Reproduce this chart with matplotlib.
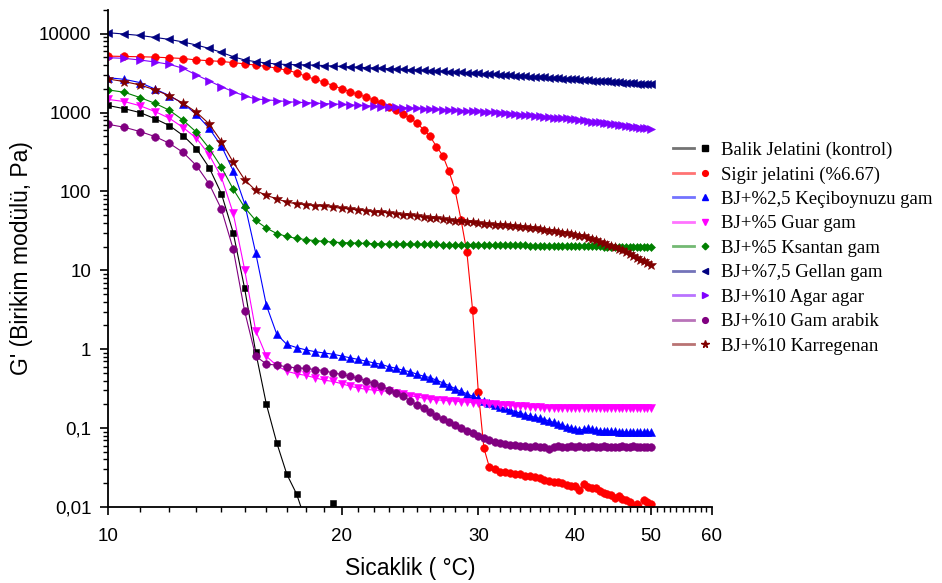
import numpy as np
import matplotlib
matplotlib.use("Agg")
import matplotlib.pyplot as plt
from matplotlib.lines import Line2D
from matplotlib.legend_handler import HandlerTuple
from matplotlib.ticker import FixedLocator, FuncFormatter, NullFormatter, LogLocator

plt.rcParams['font.family'] = ['Liberation Sans', 'DejaVu Sans']

# measurement grid: 10 -> 50 °C every 0.5 °C
temperature = np.arange(10, 50.01, 0.5)

# G' values (Pa)
balik = [1230, 1120, 1000, 836, 684, 511, 350, 201, 94, 30, 5.9, 0.92, 0.20, 0.065,
         0.026, 0.0146, 0.0064, np.nan, np.nan, 0.0112]

sigir = [5200, 5150, 5100, 5050, 4950, 4850, 4650, 4550, 4450, 4300, 4150, 4000, 3850,
         3650, 3450, 3200, 2880, 2640, 2420, 2200, 2010, 1840, 1710, 1570, 1440, 1320,
         1190, 1080, 970, 850, 735, 610, 500, 370, 285, 180, 104, 44, 17, 3.1, 0.29,
         0.056, 0.032, 0.030, 0.028, 0.0275, 0.027, 0.0265, 0.026, 0.0245, 0.0245, 0.024,
         0.023, 0.022, 0.0215, 0.0205, 0.021, 0.020, 0.019, 0.0185, 0.0185, 0.0163, 0.0194,
         0.018, 0.0172, 0.0175, 0.016, 0.0152, 0.0148, 0.014, 0.0131, 0.0138, 0.0128,
         0.0122, 0.0115, 0.0098, 0.0108, 0.0095, 0.0122, 0.0116, 0.0108]

keciboynuzu = [2770, 2640, 2400, 1990, 1640, 1300, 951, 633, 378, 183, 70, 16.6, 3.6,
               1.55, 1.15, 1.05, 0.98, 0.93, 0.895, 0.865, 0.82, 0.78, 0.743, 0.707,
               0.671, 0.644, 0.60, 0.575, 0.541, 0.519, 0.483, 0.455, 0.438, 0.405, 0.376,
               0.346, 0.317, 0.292, 0.273, 0.253, 0.238, 0.22, 0.208, 0.196, 0.185, 0.178,
               0.169, 0.162, 0.154, 0.148, 0.142, 0.137, 0.133, 0.128, 0.124, 0.118, 0.114,
               0.108, 0.104, 0.100, 0.098, 0.095, 0.096, 0.100, 0.096, 0.094, 0.093, 0.092,
               0.092, 0.091, 0.091, 0.090, 0.090, 0.089, 0.089, 0.089, 0.089, 0.089, 0.089,
               0.089, 0.089]

guar = [1470, 1380, 1220, 1030, 847, 646, 473, 292, 152, 53, 10.2, 1.72, 0.815, 0.62,
        0.526, 0.487, 0.465, 0.433, 0.405, 0.39, 0.366, 0.34, 0.323, 0.31, 0.303, 0.298,
        0.292, 0.28, 0.268, 0.258, 0.248, 0.24, 0.232, 0.228, 0.225, 0.222, 0.22, 0.216,
        0.214, 0.211, 0.209, 0.206, 0.204, 0.201, 0.199, 0.196, 0.194, 0.192, 0.19, 0.188,
        0.186, 0.184, 0.183, 0.182, 0.182, 0.18, 0.179, 0.18, 0.179, 0.18, 0.181, 0.179,
        0.18, 0.182, 0.18, 0.179, 0.181, 0.18, 0.178, 0.181, 0.18, 0.179, 0.181, 0.18,
        0.179, 0.18, 0.181, 0.18, 0.181, 0.181, 0.182]

ksantan = [1940, 1810, 1550, 1310, 1070, 800, 564, 353, 203, 107, 62.7, 42.9, 34.3, 29.3,
           26.9, 25.4, 24.5, 23.8, 23.3, 22.8, 22.5, 22.3, 22.1, 21.9, 21.8, 21.7, 21.6,
           21.5, 21.5, 21.4, 21.4, 21.3, 21.3, 21.3, 21.2, 21.2, 21.2, 21.2, 21.2, 21.1,
           21.1, 21.0, 21.0, 20.9, 20.9, 20.9, 20.8, 20.8, 20.7, 20.7, 20.6, 20.6, 20.6,
           20.5, 20.5, 20.4, 20.4, 20.4, 20.3, 20.3, 20.3, 20.2, 20.2, 20.2, 20.1, 20.1,
           20.1, 20.0, 20.0, 20.0, 19.9, 19.9, 19.9, 19.8, 19.8, 19.8, 19.8, 19.7, 19.7,
           19.7, 19.7]

gellan = [10300, 9900, 9500, 8970, 8470, 7850, 7190, 6510, 5800, 5110, 4650, 4420, 4250,
          4130, 4070, 4050, 4030, 3990, 3950, 3890, 3850, 3800, 3760, 3720, 3680, 3640,
          3600, 3560, 3530, 3490, 3460, 3420, 3390, 3360, 3330, 3300, 3260, 3230, 3200,
          3170, 3140, 3110, 3080, 3050, 3020, 2990, 2970, 2940, 2910, 2890, 2860, 2840,
          2820, 2790, 2770, 2740, 2720, 2700, 2680, 2660, 2640, 2610, 2590, 2570, 2550,
          2530, 2520, 2500, 2480, 2460, 2440, 2420, 2400, 2380, 2370, 2350, 2330, 2310,
          2300, 2290, 2280]

agar = [4970, 4870, 4640, 4380, 4090, 3640, 3000, 2520, 2130, 1840, 1630, 1490, 1450,
        1420, 1380, 1350, 1340, 1320, 1300, 1290, 1270, 1250, 1240, 1220, 1210, 1190,
        1180, 1170, 1160, 1140, 1130, 1120, 1110, 1100, 1090, 1080, 1070, 1060, 1055,
        1050, 1040, 1030, 1020, 1010, 995, 983, 970, 958, 945, 932, 920, 907, 895, 885,
        875, 865, 855, 850, 843, 832, 820, 808, 795, 783, 770, 760, 750, 740, 730, 720,
        710, 700, 690, 680, 670, 660, 650, 643, 635, 630, 625]

arabik = [711, 651, 575, 496, 408, 312, 213, 125, 59.7, 18.6, 3.03, 0.815, 0.65, 0.627,
          0.60, 0.58, 0.57, 0.553, 0.535, 0.50, 0.48, 0.455, 0.43, 0.397, 0.368, 0.343,
          0.305, 0.282, 0.255, 0.222, 0.198, 0.178, 0.16, 0.142, 0.13, 0.12, 0.11, 0.10,
          0.092, 0.086, 0.08, 0.0755, 0.071, 0.066, 0.064, 0.062, 0.061, 0.0605, 0.059,
          0.060, 0.058, 0.059, 0.058, 0.057, 0.055, 0.058, 0.059, 0.058, 0.058, 0.059,
          0.058, 0.059, 0.058, 0.058, 0.059, 0.058, 0.058, 0.059, 0.058, 0.058, 0.057,
          0.058, 0.059, 0.058, 0.058, 0.059, 0.058, 0.058, 0.058, 0.058, 0.058]

karregenan = [2670, 2470, 2240, 1940, 1630, 1310, 1010, 720, 430, 235, 141, 103, 89, 81,
              73, 70, 67.9, 66.2, 64.5, 62.9, 61.4, 59.8, 58.4, 57.1, 55.7, 54.6, 53.5,
              52.2, 50.9, 49.7, 48.5, 47.5, 46.4, 45.5, 44.5, 43.6, 42.6, 41.8, 41.1, 40.5,
              39.8, 39.2, 38.7, 38.1, 37.6, 37.1, 36.6, 36.1, 35.7, 35.2, 34.7, 34.0, 33.4,
              32.7, 32.0, 31.3, 30.6, 30.0, 29.4, 28.7, 28.1, 27.5, 26.9, 25.9, 24.9, 23.9,
              23.0, 22.1, 21.2, 20.3, 19.5, 18.7, 17.9, 17.0, 16.1, 15.2, 14.4, 13.7, 13.0,
              12.3, 11.7]

labels = ["Balik Jelatini (kontrol)", "Sigir jelatini (%6.67)", "BJ+%2,5 Keçiboynuzu gam",
          "BJ+%5 Guar gam", "BJ+%5 Ksantan gam", "BJ+%7,5 Gellan gam", "BJ+%10 Agar agar",
          "BJ+%10 Gam arabik", "BJ+%10 Karregenan"]
series = [balik, sigir, keciboynuzu, guar, ksantan, gellan, agar, arabik, karregenan]
colors = ["black", "#FF0000", "#0000FF", "#FF00FF", "#008000", "#000080", "#8000FF",
          "#800080", "#800000"]
markers = ["s", "o", "^", "v", "D", "<", ">", "o", "*"]
msizes = [5, 5.5, 6, 6, 4.5, 6, 6, 5.5, 7.5]

fig = plt.figure(figsize=(9.42, 5.83), dpi=100)
ax = fig.add_axes([0.1146, 0.1304, 0.6412, 0.8525])

handles = []
for vals, lab, c, m, s in zip(series, labels, colors, markers, msizes):
    n = len(vals)
    ax.plot(temperature[:n], vals, color=c, lw=0.8, marker=m, ms=s, mec=c, mew=0.4)
    line_part = Line2D([], [], color=c, lw=2, alpha=0.55)
    mark_part = Line2D([], [], color=c, lw=0, marker=m, ms=s * 0.75, mec=c)
    handles.append((line_part, mark_part))

ax.set_xscale('log')
ax.set_yscale('log')
ax.set_xlim(10, 60)
ax.set_ylim(0.01, 2e4)

for side in ['top', 'right']:
    ax.spines[side].set_visible(False)
for side in ['left', 'bottom']:
    ax.spines[side].set_linewidth(1.3)

ax.xaxis.set_major_locator(FixedLocator([10, 20, 30, 40, 50, 60]))
ax.xaxis.set_major_formatter(FuncFormatter(lambda v, p: f"{v:g}"))
ax.xaxis.set_minor_locator(FixedLocator([t for t in range(11, 60) if t % 10]))
ax.xaxis.set_minor_formatter(NullFormatter())

ax.yaxis.set_major_locator(FixedLocator([0.01, 0.1, 1, 10, 100, 1000, 10000]))
ax.yaxis.set_major_formatter(FuncFormatter(lambda v, p: f"{v:g}".replace('.', ',')))
ax.yaxis.set_minor_locator(LogLocator(base=10, subs=np.arange(2, 10), numticks=20))
ax.yaxis.set_minor_formatter(NullFormatter())

ax.tick_params(which='major', direction='out', length=6, width=1.2, labelsize=13.5)
ax.tick_params(which='minor', direction='out', length=3.5, width=1)
ax.tick_params(axis='x', which='major', pad=9)
ax.tick_params(axis='y', which='major', pad=6)

ax.set_xlabel("Sicaklik ( °C)", fontsize=16.5, labelpad=9)
ax.set_ylabel("G' (Birikim modülü, Pa)", fontsize=16.5, labelpad=4)

fig.legend(handles, labels, loc='upper left', bbox_to_anchor=(0.714, 0.757),
           frameon=False, prop={'family': 'Liberation Serif', 'size': 13.5},
           handlelength=2.3, handletextpad=0.3, labelspacing=0.39,
           borderaxespad=0, borderpad=0,
           handler_map={tuple: HandlerTuple(ndivide=None)})

fig.savefig("out.png", dpi=100)
